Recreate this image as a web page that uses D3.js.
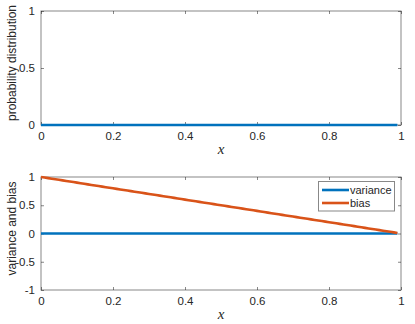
<!DOCTYPE html>
<html><head><meta charset="utf-8">
<script src="https://cdn.jsdelivr.net/npm/d3@7"></script>
<style>body{margin:0;background:#fff}svg{display:block}text{font-family:"Liberation Sans",Arial,sans-serif;fill:#262626}</style>
</head><body><svg id="c" width="415" height="324"></svg>
<script>
// data
const xValues = d3.range(0, 100).map(i => i / 100); // 0 .. 0.99 sample grid
const probDist = xValues.map(() => 0);
const variance = xValues.map(() => 0);
const bias = xValues.map(x => 1 - x);
const xTicks = [0, 0.2, 0.4, 0.6, 0.8, 1];
const yTicksTop = [0, 0.5, 1];
const yTicksBottom = [-1, -0.5, 0, 0.5, 1];
const seriesNames = ["variance", "bias"];
const colors = ["#0072BD", "#D95319"];

const svg = d3.select("#c");
const L = 41, R = 401;

function panel(top, bottom, yDomain, yTicks, ylabel, series) {
  const x = d3.scaleLinear().domain([0, 1]).range([L, R]);
  const y = d3.scaleLinear().domain(yDomain).range([bottom, top]);
  const g = svg.append("g");
  const fmt = d => String(d);
  const axStyle = sel => {
    sel.select(".domain").remove();
    sel.selectAll("line").attr("stroke", "#262626").attr("stroke-opacity", 0.55);
    sel.selectAll("text").attr("font-size", 11.5).style("fill", "#262626");
  };
  g.append("g").attr("transform", `translate(0,${bottom})`)
    .call(d3.axisBottom(x).tickValues(xTicks).tickFormat(fmt).tickSizeInner(-3).tickSizeOuter(0).tickPadding(7))
    .call(axStyle);
  g.append("g").attr("transform", `translate(0,${top})`)
    .call(d3.axisTop(x).tickValues(xTicks).tickFormat("").tickSizeInner(-3).tickSizeOuter(0))
    .call(axStyle);
  g.append("g").attr("transform", `translate(${L},0)`)
    .call(d3.axisLeft(y).tickValues(yTicks).tickFormat(fmt).tickSizeInner(-3).tickSizeOuter(0).tickPadding(6))
    .call(axStyle);
  g.append("g").attr("transform", `translate(${R},0)`)
    .call(d3.axisRight(y).tickValues(yTicks).tickFormat("").tickSizeInner(-3).tickSizeOuter(0))
    .call(axStyle);
  g.append("rect").attr("x", L).attr("y", top).attr("width", R - L).attr("height", bottom - top)
    .attr("fill", "none").attr("stroke", "#262626").attr("stroke-opacity", 0.55).attr("stroke-width", 1);
  const line = d3.line().x((d, i) => x(xValues[i])).y(d => y(d));
  series.forEach(s => {
    g.append("path").datum(s.values).attr("d", line).attr("fill", "none")
      .attr("stroke", s.color).attr("stroke-width", 2.6);
  });
  g.append("text").attr("x", (L + R) / 2).attr("y", bottom + 29).attr("text-anchor", "middle")
    .style("font-family", "'Liberation Serif', 'DejaVu Serif', serif").style("font-style", "italic")
    .attr("font-size", 15).text("x");
  g.append("text").attr("transform", `translate(16,${(top + bottom) / 2 - 5}) rotate(-90)`)
    .attr("text-anchor", "middle").attr("font-size", 12).text(ylabel);
  return { x, y };
}

panel(11, 125, [0, 1], yTicksTop, "probability distribution",
  [{ values: probDist, color: colors[0] }]);
panel(177, 290, [-1, 1], yTicksBottom, "variance and bias",
  [{ values: variance, color: colors[0] }, { values: bias, color: colors[1] }]);

// legend
const lg = svg.append("g");
lg.append("rect").attr("x", 318.5).attr("y", 181.5).attr("width", 76).attr("height", 29.5)
  .attr("fill", "#fff").attr("stroke", "#262626").attr("stroke-opacity", 0.55);
seriesNames.forEach((n, i) => {
  const yy = 190 + i * 13;
  lg.append("line").attr("x1", 322).attr("x2", 349).attr("y1", yy).attr("y2", yy)
    .attr("stroke", colors[i]).attr("stroke-width", 2.6);
  lg.append("text").attr("x", 350).attr("y", yy + 4).attr("font-size", 11).text(n);
});
</script></body></html>
